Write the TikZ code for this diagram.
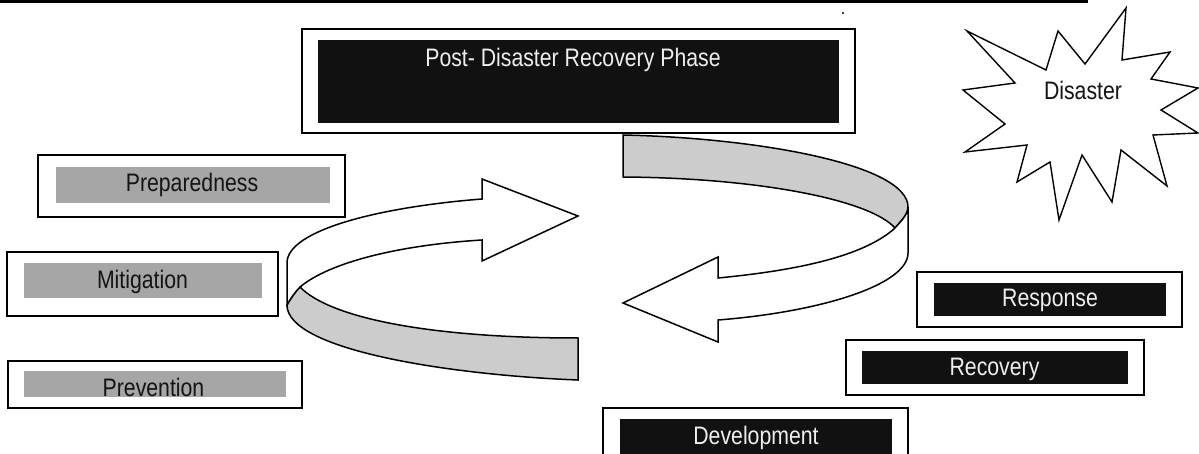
\documentclass[tikz,border=0pt]{standalone}
\usepackage{fontspec}
\setmainfont{Liberation Sans}[FakeStretch=0.84]
\definecolor{barblack}{HTML}{111111}
\definecolor{bargrey}{HTML}{A6A6A6}
\definecolor{bandgrey}{HTML}{CCCCCC}
\definecolor{paletext}{HTML}{EEEEEE}
\begin{document}
\begin{tikzpicture}[x=1pt,y=-1pt,
  frame/.style={draw=black,line width=1.6pt,fill=white,inner sep=0pt,outer sep=0pt},
  darkbar/.style={fill=barblack,inner sep=0pt,outer sep=0pt},
  greybar/.style={fill=bargrey,inner sep=0pt,outer sep=0pt},
  labelfont/.style={font=\fontsize{25.3}{28}\selectfont,anchor=base,inner sep=0pt},
  lighttext/.style={labelfont,text=paletext},
  darktext/.style={labelfont,text=black!92},
  ribbon/.style={draw=black,line width=1.5pt,line join=miter},
]
\useasboundingbox (0,0) rectangle (1199,454);
\clip (0,0) rectangle (1199,454);

% rule at the head of the page
\draw[line width=2.8pt] (0,1.4) -- (1088,1.4);
\fill (843,13) circle (1.1pt);

% phase title
\node[frame,minimum width=553pt,minimum height=104pt] (phaseO) at (578.5,81) {};
\node[darkbar,minimum width=521pt,minimum height=83pt] (phase) at (578.5,81.5) {};
\node[lighttext] (phaseT) at (573,67) {Post- Disaster Recovery Phase};

% burst
\draw[line width=1.4pt,fill=white,line join=miter]
  (1126,8) -- (1122,60) -- (1170,52) -- (1151,79) -- (1198,88) -- (1161,110)
  -- (1198,133) -- (1153,135) -- (1167,186) -- (1121,150) -- (1112,202)
  -- (1082,155) -- (1059,220) -- (1050,162) -- (1017,182) -- (1027,145)
  -- (965,152) -- (1005,124) -- (963,90) -- (1015,83) -- (967,31)
  -- (1046,70) -- (1058,31) -- (1085,64) -- cycle;
\node[darktext] (disaster) at (1083,100) {Disaster};

% pre-disaster phases
\node[frame,minimum width=307pt,minimum height=62pt] (prepO) at (191.5,186) {};
\node[greybar,minimum width=274pt,minimum height=36pt] (prep) at (193,185) {};
\node[darktext] (prepT) at (192,191.7) {Preparedness};

\node[frame,minimum width=271pt,minimum height=64pt] (mitiO) at (142.5,284) {};
\node[greybar,minimum width=238pt,minimum height=35pt] (miti) at (143,280.5) {};
\node[darktext] (mitiT) at (142.5,288) {Mitigation};

\node[frame,minimum width=294pt,minimum height=47pt] (prevO) at (155,384.5) {};
\node[greybar,minimum width=262pt,minimum height=26pt] (prev) at (155,384) {};
\node[darktext] (prevT) at (153.5,396.7) {Prevention};

% post-disaster phases
\node[frame,minimum width=265pt,minimum height=55pt] (respO) at (1049.5,299.5) {};
\node[darkbar,minimum width=232pt,minimum height=33pt] (resp) at (1050,299.5) {};
\node[lighttext] (respT) at (1050,306.7) {Response};

\node[frame,minimum width=298pt,minimum height=55pt] (recoO) at (995,367.5) {};
\node[darkbar,minimum width=266pt,minimum height=33pt] (reco) at (995,367.5) {};
\node[lighttext] (recoT) at (994.5,375) {Recovery};

\node[frame,minimum width=305pt,minimum height=72pt] (devO) at (755.5,444) {};
\node[darkbar,minimum width=272pt,minimum height=51pt] (dev) at (756,444.5) {};
\node[lighttext] (devT) at (756,444) {Development};

% left ribbon arrow: shaded underside
\draw[ribbon,fill=bandgrey]
  (300,287) .. controls (330,318) and (430,338) .. (578,338)
  -- (578,380)
  .. controls (450,375) and (287,350) .. (287,305)
  .. controls (291,298) and (295,292) .. (300,287) -- cycle;
% left ribbon arrow: upper face and head
\draw[ribbon,fill=white]
  (287,305) -- (287,263)
  .. controls (287,230) and (380,207) .. (482,199)
  -- (482,179) -- (578,216) -- (482,261) -- (482,240)
  .. controls (400,245) and (330,262) .. (300,287)
  .. controls (295,292) and (291,298) .. (287,305) -- cycle;

% right ribbon arrow: shaded underside
\draw[ribbon,fill=bandgrey]
  (623,135) .. controls (760,138) and (908,165) .. (908,207)
  .. controls (908,215) and (900,222) .. (895,228)
  .. controls (870,200) and (760,178) .. (623,177) -- cycle;
% right ribbon arrow: lower face and head
\draw[ribbon,fill=white]
  (895,228) .. controls (860,260) and (780,272) .. (718,278)
  -- (718,257) -- (623,303) -- (718,342) -- (718,320)
  .. controls (820,312) and (908,285) .. (908,253)
  -- (908,207)
  .. controls (908,215) and (900,222) .. (895,228) -- cycle;
\end{tikzpicture}
\end{document}
